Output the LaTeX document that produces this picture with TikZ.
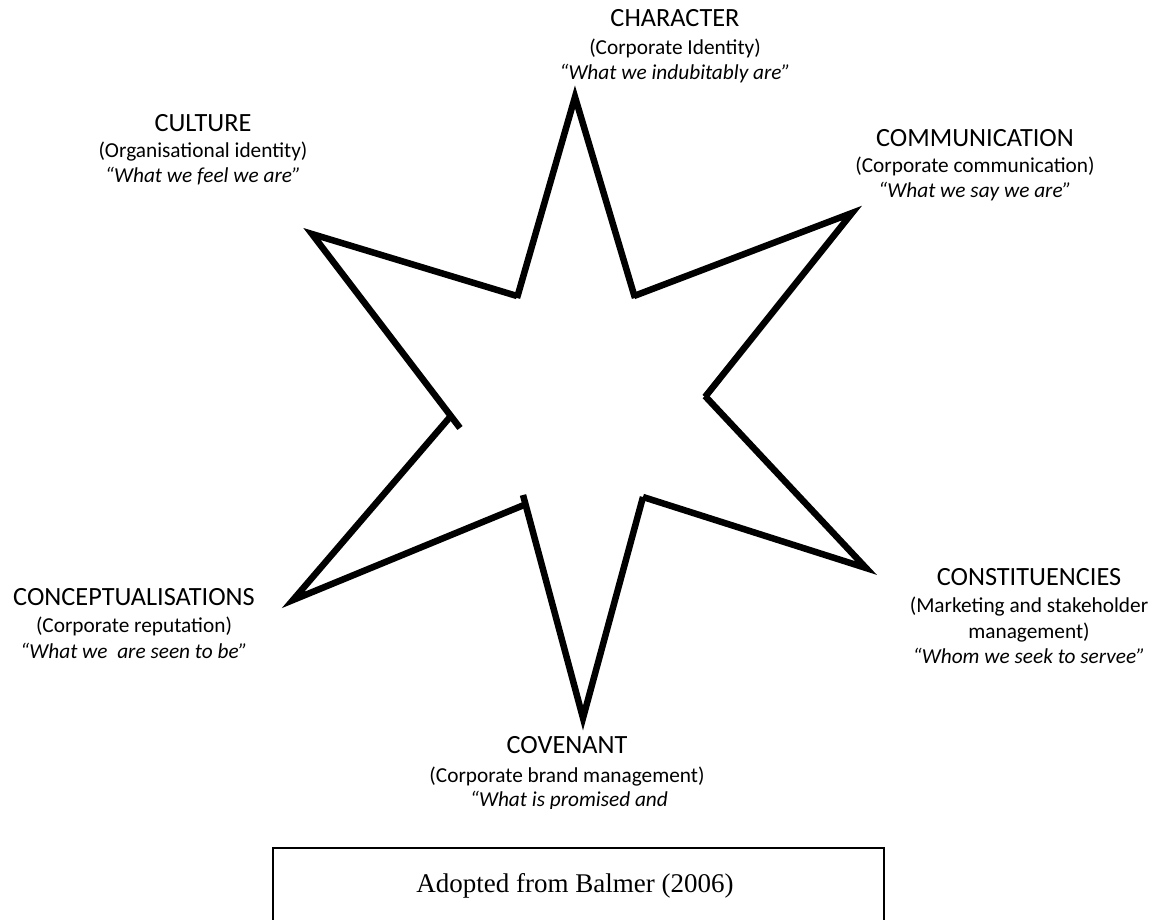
\documentclass[tikz,border=0pt]{standalone}
\usepackage{fontspec}
\setmainfont{Carlito}
\newfontfamily\sourcefont{Liberation Serif}
\begin{document}
\begin{tikzpicture}[x=1pt,y=-1pt,
  spike/.style={line width=6.5pt, line join=miter, line cap=butt},
  headline/.style={font=\fontsize{26.3}{31}\selectfont, inner sep=0pt, anchor=base},
  subline/.style={font=\fontsize{21.3}{26}\selectfont, inner sep=0pt, anchor=base},
  quoteline/.style={font=\fontsize{21.3}{26}\selectfont\itshape, inner sep=0pt, anchor=base},
  sourcebox/.style={line width=2pt},
  sourcetext/.style={font=\sourcefont\fontsize{27}{32}\selectfont, inner sep=0pt, anchor=base},
]
\useasboundingbox (0,0) rectangle (1157,920);

% outer points of the six-pointed star
\coordinate (pTop) at (575,97);
\coordinate (pUR)  at (852,213);
\coordinate (pLR)  at (866,568);
\coordinate (pBot) at (583,718);
\coordinate (pLL)  at (293,600);
\coordinate (pUL)  at (312,234);

% inner corners (each spike is drawn as its own open stroke)
\coordinate (iTLa) at (517,298);  \coordinate (iTRa) at (635,298);
\coordinate (iTRb) at (634,296);  \coordinate (iRa)  at (705,397);
\coordinate (iRb)  at (705,396);  \coordinate (iBRa) at (643,497);
\coordinate (iBRb) at (643,497);  \coordinate (iBLa) at (523,495);
\coordinate (iBLb) at (524,505);  \coordinate (iLa)  at (450,417);
\coordinate (iLb)  at (460,428);  \coordinate (iTLb) at (517,296);

\draw[spike] (iTLa) -- (pTop) -- (iTRa);
\draw[spike] (iTRb) -- (pUR)  -- (iRa);
\draw[spike] (iRb)  -- (pLR)  -- (iBRa);
\draw[spike] (iBRb) -- (pBot) -- (iBLa);
\draw[spike] (iBLb) -- (pLL)  -- (iLa);
\draw[spike] (iLb)  -- (pUL)  -- (iTLb);

% CHARACTER
\node[headline]  (chA) at (675,27) {CHARACTER};
\node[subline]   (chB) at (675,55) {(Corporate Identity)};
\node[quoteline] (chC) at (675,80) {“What we indubitably are”};

% COMMUNICATION
\node[headline]  (cmA) at (975,147) {COMMUNICATION};
\node[subline]   (cmB) at (975,173) {(Corporate communication)};
\node[quoteline] (cmC) at (975,198) {“What we say we are”};

% CULTURE
\node[headline]  (cuA) at (203,132) {CULTURE};
\node[subline]   (cuB) at (203,158) {(Organisational identity)};
\node[quoteline] (cuC) at (203,183) {“What we feel we are”};

% CONCEPTUALISATIONS
\node[headline]  (coA) at (134,605) {CONCEPTUALISATIONS};
\node[subline]   (coB) at (134,632) {(Corporate reputation)};
\node[quoteline] (coC) at (134,658) {“What we\ \ are seen to be”};

% CONSTITUENCIES
\node[headline]  (csA) at (1029,585) {CONSTITUENCIES};
\node[subline]   (csB) at (1029,612) {(Marketing and stakeholder};
\node[subline]   (csC) at (1029,638) {management)};
\node[quoteline] (csD) at (1029,663) {“Whom we seek to servee”};

% COVENANT (last line cut off by its text frame)
\node[headline]  (cvA) at (567,753) {COVENANT};
\node[subline]   (cvB) at (567,782) {(Corporate brand management)};
\begin{scope}
  \clip (380,785) rectangle (760,808);
  \node[quoteline] (cvC) at (569,806) {“What is promised and};
\end{scope}

% source box
\coordinate (bxBL) at (273,920);
\coordinate (bxTL) at (273,848);
\coordinate (bxTR) at (884,848);
\coordinate (bxBR) at (884,920);
\draw[sourcebox] (bxBL) -- (bxTL) -- (bxTR) -- (bxBR);
\node[sourcetext] (src) at (575,892) {Adopted from Balmer (2006)};
\end{tikzpicture}
\end{document}
